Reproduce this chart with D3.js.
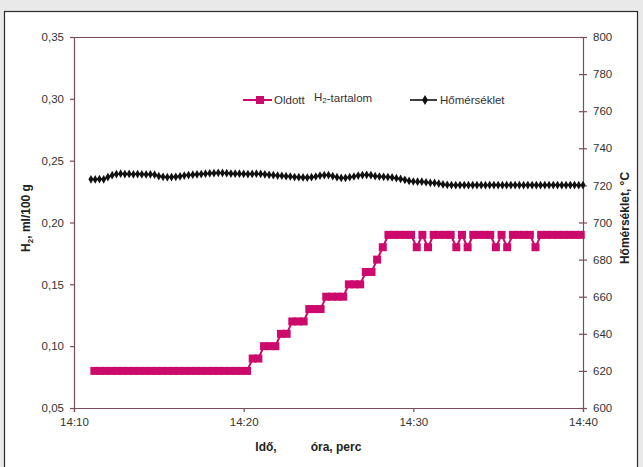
<!DOCTYPE html>
<html><head><meta charset="utf-8">
<script src="https://cdn.jsdelivr.net/npm/d3@7"></script>
<style>
html,body{margin:0;padding:0;background:#e9e9e9;}
svg{display:block;font-family:"Liberation Sans",Arial,sans-serif;}
</style></head>
<body>
<svg id="c" width="643" height="467"></svg>
<script>
// ---- data ----
const xTickValues = [0, 10, 20, 30];            // minutes after 14:10
const xTickLabels = ["14:10", "14:20", "14:30", "14:40"];
const leftTicks = [0.05, 0.10, 0.15, 0.20, 0.25, 0.30, 0.35];
const rightTicks = [600, 620, 640, 660, 680, 700, 720, 740, 760, 780, 800];

// Oldott H2-tartalom, sampled every 20 s starting 14:11:12
const h2Start = 1.2, h2Step = 1 / 3;
const h2Values = [
  0.08,0.08,0.08,0.08,0.08,0.08,0.08,0.08,0.08,0.08,0.08,0.08,0.08,0.08,
  0.08,0.08,0.08,0.08,0.08,0.08,0.08,0.08,0.08,0.08,0.08,0.08,0.08,0.08,
  0.09,0.09,
  0.10,0.10,0.10,
  0.11,0.11,
  0.12,0.12,0.12,
  0.13,0.13,0.13,
  0.14,0.14,0.14,0.14,
  0.15,0.15,0.15,
  0.16,0.16,
  0.17,
  0.18,
  0.19,0.19,0.19,0.19,0.19,
  0.18,0.19,0.18,
  0.19,0.19,0.19,0.19,
  0.18,0.19,0.18,
  0.19,0.19,0.19,0.19,
  0.18,0.19,0.18,
  0.19,0.19,0.19,0.19,
  0.18,
  0.19,0.19,0.19,0.19,0.19,0.19,0.19,0.19
];

// Hőmérséklet, sampled every 15 s starting 14:11:00
const tStart = 1.0, tStep = 0.25;
const tempValues = [
  723.3,723.2,723.4,723.3,
  724.5,725.5,
  726.1,726.3,726.1,726.2,726.0,726.1,726.0,725.9,726.0,725.8,
  725.0,724.6,724.4,724.5,724.6,724.9,
  725.3,725.6,725.8,726.0,726.1,726.3,726.5,726.6,726.8,726.7,
  726.6,726.4,726.3,726.3,726.2,726.1,726.2,726.3,726.2,
  726.0,725.7,725.5,725.3,725.2,725.0,
  724.8,724.5,724.4,724.3,724.2,724.4,
  724.8,725.3,725.5,725.6,
  725.0,724.4,724.0,724.1,
  724.4,724.8,725.3,725.6,725.7,725.5,
  725.0,724.8,724.6,724.5,724.3,
  723.9,723.5,723.0,722.4,722.1,
  722.0,722.0,721.7,721.4,721.3,721.0,720.5,720.3,
  720.2,720.1,720.2,720.2,720.1,720.2,720.2,720.2,720.1,720.2,720.2,720.2,
  720.1,720.2,720.2,720.2,720.2,720.1,720.2,720.2,720.2,720.1,720.2,720.2,
  720.2,720.2,720.1,720.2,720.2,720.2,720.1,720.2
];

// ---- drawing ----
const svg = d3.select("#c");
const L = 74, R = 583, T = 37, B = 408;
const axisColor = "#7a4d58";
const pink = "#cc0a6b";
const textColor = "#333";

svg.append("rect").attr("x", 4.5).attr("y", 11.5).attr("width", 633).attr("height", 460)
  .attr("fill", "#fff").attr("stroke", "#2a2a2a").attr("stroke-width", 1.2);

const x = d3.scaleLinear().domain([0, 30]).range([L, R]);
const yL = d3.scaleLinear().domain([0.05, 0.35]).range([B, T]);
const yR = d3.scaleLinear().domain([600, 800]).range([B, T]);

// frame lines
svg.append("line").attr("x1", L).attr("x2", R).attr("y1", T + 0.5).attr("y2", T + 0.5)
  .attr("stroke", axisColor).attr("stroke-width", 1.2);

const fmtComma = d => d3.format(".2f")(d).replace(".", ",");

const gL = svg.append("g").attr("transform", `translate(${L},0)`)
  .call(d3.axisLeft(yL).tickValues(leftTicks).tickFormat(fmtComma).tickSizeOuter(0).tickSize(4).tickPadding(6));
const gR = svg.append("g").attr("transform", `translate(${R},0)`)
  .call(d3.axisRight(yR).tickValues(rightTicks).tickFormat(d3.format("d")).tickSizeOuter(0).tickSize(4).tickPadding(6));
gR.selectAll(".tick line").attr("x1", -4);
const gB = svg.append("g").attr("transform", `translate(0,${B})`)
  .call(d3.axisBottom(x).tickValues(xTickValues).tickFormat((d, i) => xTickLabels[i]).tickSizeOuter(0).tickSize(4).tickPadding(6));

[gL, gR, gB].forEach(g => {
  g.select(".domain").attr("stroke", axisColor).attr("stroke-width", 1.2);
  g.selectAll(".tick line").attr("stroke", axisColor).attr("stroke-width", 1.2);
  g.selectAll(".tick text").attr("fill", textColor).attr("font-size", 11.5)
    .attr("font-family", "'Liberation Sans', Arial, sans-serif");
});

// series data
const h2Data = h2Values.map((v, i) => ({ t: h2Start + i * h2Step, v }));
const tempData = tempValues.map((v, i) => ({ t: tStart + i * tStep, v }));

// temperature line
svg.append("path").datum(tempData)
  .attr("d", d3.line().x(d => x(d.t)).y(d => yR(d.v)))
  .attr("fill", "none").attr("stroke", "#111").attr("stroke-width", 1.6);
svg.append("g").selectAll("path").data(tempData).join("path")
  .attr("transform", d => `translate(${x(d.t)},${yR(d.v)})`)
  .attr("d", d3.symbol(d3.symbolDiamond, 22))
  .attr("fill", "#111");

// H2 line
svg.append("path").datum(h2Data)
  .attr("d", d3.line().x(d => x(d.t)).y(d => yL(d.v)))
  .attr("fill", "none").attr("stroke", pink).attr("stroke-width", 2);
svg.append("g").selectAll("rect").data(h2Data).join("rect")
  .attr("x", d => x(d.t) - 4).attr("y", d => yL(d.v) - 4)
  .attr("width", 8).attr("height", 8).attr("fill", pink);

// legend
const lg = svg.append("g");
lg.append("line").attr("x1", 243).attr("x2", 272).attr("y1", 100).attr("y2", 100).attr("stroke", pink).attr("stroke-width", 2);
lg.append("rect").attr("x", 256).attr("y", 96).attr("width", 8).attr("height", 8).attr("fill", pink);
lg.append("text").attr("x", 274).attr("y", 104).attr("font-size", 11.5).attr("fill", textColor).text("Oldott");
const lt = lg.append("text").attr("x", 314).attr("y", 104).attr("font-size", 11.5).attr("fill", textColor);
lt.append("tspan").attr("dy", -3).text("H");
lt.append("tspan").attr("font-size", 8).attr("dy", 2).text("2");
lt.append("tspan").attr("dy", -1).text("-tartalom");
lg.append("line").attr("x1", 410).attr("x2", 437).attr("y1", 100).attr("y2", 100).attr("stroke", "#111").attr("stroke-width", 1.6);
lg.append("path").attr("transform", "translate(425,100)").attr("d", d3.symbol(d3.symbolDiamond, 30)).attr("fill", "#111");
lg.append("text").attr("x", 440).attr("y", 104).attr("font-size", 11.5).attr("fill", textColor).text("Hőmérséklet");

// axis titles
const yt = svg.append("text").attr("transform", "translate(30,218) rotate(-90)")
  .attr("text-anchor", "middle").attr("font-size", 12).attr("font-weight", "bold").attr("fill", "#222");
yt.append("tspan").text("H");
yt.append("tspan").attr("font-size", 8).attr("dy", 3).text("2");
yt.append("tspan").attr("dy", -3).text(", ml/100 g");

svg.append("text").attr("transform", "translate(629,218) rotate(-90)")
  .attr("text-anchor", "middle").attr("font-size", 12).attr("font-weight", "bold").attr("fill", "#222")
  .text("Hőmérséklet, °C");

svg.append("text").attr("x", 266).attr("y", 451).attr("text-anchor", "middle")
  .attr("font-size", 12).attr("font-weight", "bold").attr("fill", "#222").text("Idő,");
svg.append("text").attr("x", 336).attr("y", 451).attr("text-anchor", "middle")
  .attr("font-size", 12).attr("font-weight", "bold").attr("fill", "#222").text("óra, perc");
</script>
</body></html>
